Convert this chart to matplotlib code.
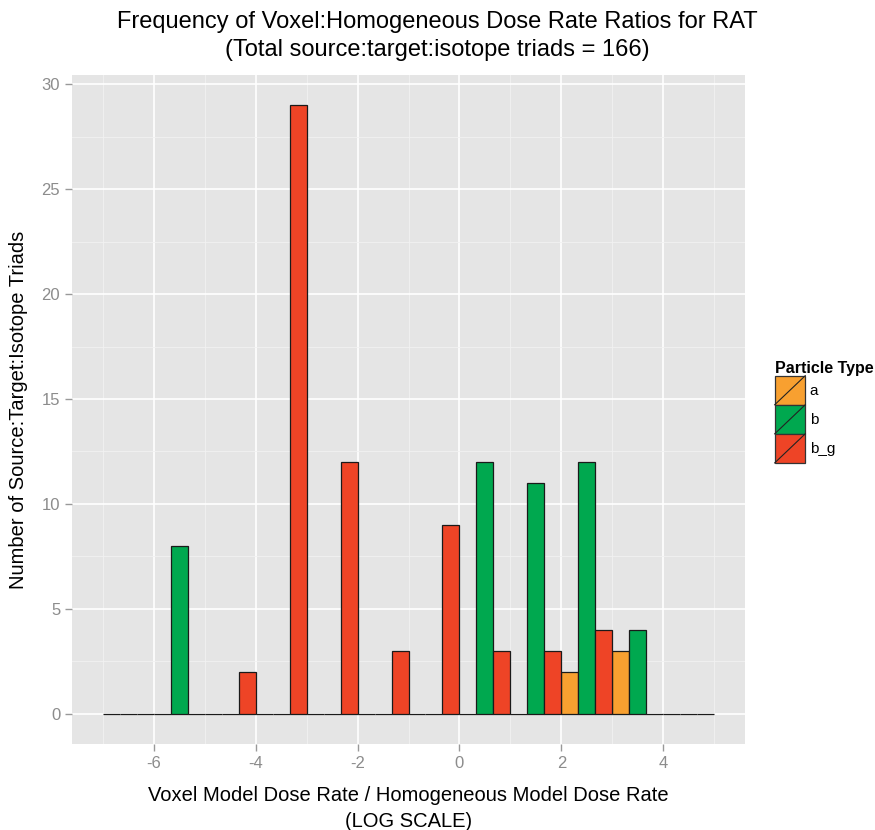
import numpy as np
import matplotlib.pyplot as plt
from matplotlib.patches import Rectangle
from matplotlib.lines import Line2D
from matplotlib.legend_handler import HandlerBase

plt.rcParams['font.family'] = ['Liberation Sans', 'DejaVu Sans']
plt.rcParams['axes.unicode_minus'] = False

# bin left edges (log scale ratio), width 1
bin_edges = [-7, -6, -5, -4, -3, -2, -1, 0, 1, 2, 3, 4]
particle_types = ['a', 'b', 'b_g']
counts_a = [0, 0, 0, 0, 0, 0, 0, 0, 0, 2, 3, 0]
counts_b = [0, 8, 0, 0, 0, 0, 0, 12, 11, 12, 4, 0]
counts_bg = [0, 0, 2, 29, 12, 3, 9, 3, 3, 4, 0, 0]
colors = ['#F8A030', '#00A84F', '#EE4426']

x_ticks = [-6, -4, -2, 0, 2, 4]
y_ticks = [0, 5, 10, 15, 20, 25, 30]


class HandlerSlash(HandlerBase):
    def create_artists(self, legend, orig_handle, xdescent, ydescent,
                       width, height, fontsize, trans):
        r = Rectangle((-xdescent, -ydescent), width, height,
                      facecolor=orig_handle.get_facecolor(),
                      edgecolor='#333333', linewidth=0.9, transform=trans)
        ln = Line2D([-xdescent, -xdescent + width], [-ydescent, -ydescent + height],
                    color='#222222', linewidth=0.8, transform=trans)
        return [r, ln]


fig = plt.figure(figsize=(8.75, 8.3), dpi=100)
ax = fig.add_axes([72/875, 86/830, 673/875, 669/830])
ax.set_facecolor('#E5E5E5')

w = 1/3
edges = np.array(bin_edges)
handles = []
for k, (vals, c) in enumerate(zip([counts_a, counts_b, counts_bg], colors)):
    ax.bar(edges + k*w, vals, width=w, align='edge', color=c,
           edgecolor='#1a1a1a', linewidth=0.9, zorder=3)
    handles.append(Rectangle((0, 0), 1, 1, facecolor=c))

ax.set_xlim(-7.6, 5.6)
ax.set_ylim(-1.45, 30.45)
ax.set_xticks(x_ticks)
ax.set_yticks(y_ticks)
ax.set_xticks(np.arange(-7, 6, 2), minor=True)
ax.set_yticks(np.arange(2.5, 30, 5), minor=True)
ax.grid(which='major', color='white', linewidth=1.2, zorder=0)
ax.grid(which='minor', color='#F2F2F2', linewidth=0.6, zorder=0)
ax.set_axisbelow(True)
for s in ax.spines.values():
    s.set_visible(False)
ax.tick_params(which='major', colors='#999999', labelcolor='#8C8C8C',
               labelsize=12, length=5, width=1)
ax.tick_params(which='minor', length=0)

ax.set_xlabel('Voxel Model Dose Rate / Homogeneous Model Dose Rate\n(LOG SCALE)',
              fontsize=14.5, labelpad=11, linespacing=1.45)
ax.set_ylabel('Number of Source:Target:Isotope Triads', fontsize=14.5, labelpad=10)
fig.suptitle('Frequency of Voxel:Homogeneous Dose Rate Ratios for RAT\n'
             '(Total source:target:isotope triads = 166)',
             fontsize=17, y=0.987, x=0.5, linespacing=1.35)

leg = fig.legend(handles, particle_types, title='Particle Type',
                 handler_map={Rectangle: HandlerSlash()},
                 loc='upper left', bbox_to_anchor=(764/875, 1 - 350/830),
                 frameon=False, fontsize=11, title_fontsize=11.5,
                 handlelength=2.0, handleheight=2.55, labelspacing=0.0,
                 handletextpad=0.3, borderpad=0.2)
leg.get_title().set_fontweight('bold')
leg._legend_box.align = 'left'

fig.savefig('out.png', dpi=100)
